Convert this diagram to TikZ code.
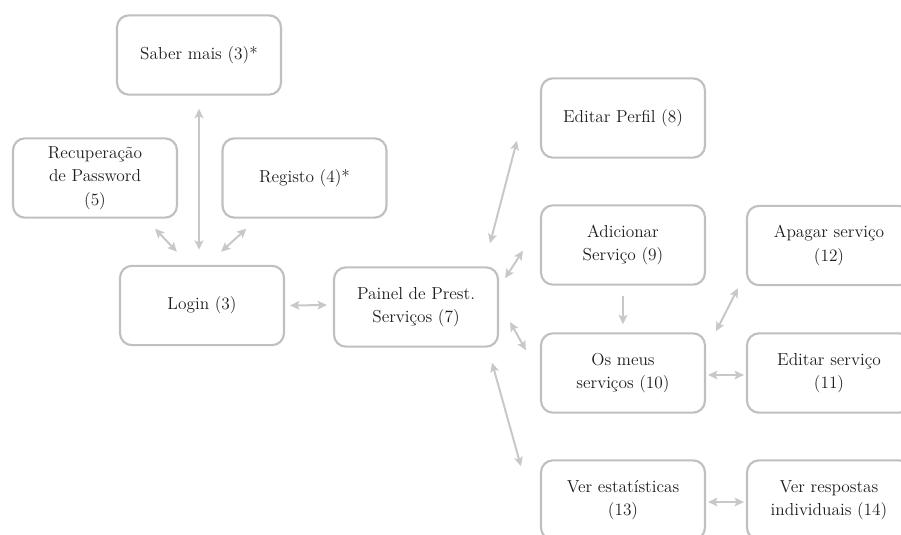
\documentclass[tikz,border=0pt]{standalone}
\usetikzlibrary{arrows.meta}
\definecolor{boxline}{RGB}{192,192,192}
\definecolor{linkgray}{RGB}{200,200,200}
\definecolor{ink}{RGB}{30,30,30}
\begin{document}
\begin{tikzpicture}[x=0.75pt,y=-0.75pt,
  screen/.style={draw=boxline, line width=1.6pt, rounded corners=9pt,
    fill=white, minimum width=123pt, minimum height=59.5pt, inner sep=2pt,
    align=center, text=ink, font=\fontsize{13}{17.5}\selectfont},
  link/.style={draw=linkgray, line width=1.5pt,
    {Stealth[length=7pt,width=6.5pt,inset=1.5pt]}-{Stealth[length=7pt,width=6.5pt,inset=1.5pt]}},
  oneway/.style={draw=linkgray, line width=1.5pt,
    -{Stealth[length=7pt,width=6.5pt,inset=1.5pt]}}]
\useasboundingbox (0,0) rectangle (901,535);
\clip (0,0) rectangle (901,535);

% screens
\node[screen] (saber)    at (199,55)    {Saber mais (3)*};
\node[screen] (recup)    at (95,178)    {Recuperação\\de Password\\(5)};
\node[screen] (registo)  at (304.5,178) {Registo (4)*};
\node[screen] (login)    at (202,305.5) {Login (3)};
\node[screen] (painel)   at (416,307)   {Painel de Prest.\\Serviços (7)};
\node[screen] (perfil)   at (623,118)   {Editar Perfil (8)};
\node[screen] (adic)     at (623,245)   {Adicionar\\Serviço (9)};
\node[screen] (apagar)   at (829,245.5) {Apagar serviço\\(12)};
\node[screen] (meus)     at (623,373)   {Os meus\\serviços (10)};
\node[screen] (editserv) at (829,373)   {Editar serviço\\(11)};
\node[screen] (verest)   at (623,500)   {Ver estatísticas\\(13)};
\node[screen] (verresp)  at (829,500)   {Ver respostas\\individuais (14)};

% navigation links
\draw[link] ([shift={(0,13)}]saber.south) -- ([shift={(-3,-15)}]login.north);
\draw[link] ([shift={(-23,10)}]recup.south east) -- ([shift={(58,-13)}]login.north west);
\draw[link] ([shift={(25,10)}]registo.south west) -- ([shift={(-64,-13)}]login.north east);
\draw[link] ([shift={(5,0)}]login.east) -- ([shift={(-6,-2)}]painel.west);
\draw[link] ([shift={(-9,-23)}]painel.north east) -- ([shift={(-23,-18)}]perfil.south west);
\draw[link] ([shift={(6,12)}]painel.north east) -- ([shift={(-17,-35)}]adic.south west);
\draw[oneway] ([shift={(0,10)}]adic.south) -- ([shift={(0,-8)}]meus.north);
\draw[link] ([shift={(11,15)}]painel.east) -- ([shift={(-14,18)}]meus.north west);
\draw[link] ([shift={(-7,15)}]painel.south east) -- ([shift={(-19,7)}]verest.north west);
\draw[link] ([shift={(10,-1)}]meus.north east) -- ([shift={(-8,2)}]apagar.south west);
\draw[link] ([shift={(2,2)}]meus.east) -- ([shift={(-2,2)}]editserv.west);
\draw[link] ([shift={(2,2)}]verest.east) -- ([shift={(-2,2)}]verresp.west);
\end{tikzpicture}
\end{document}
